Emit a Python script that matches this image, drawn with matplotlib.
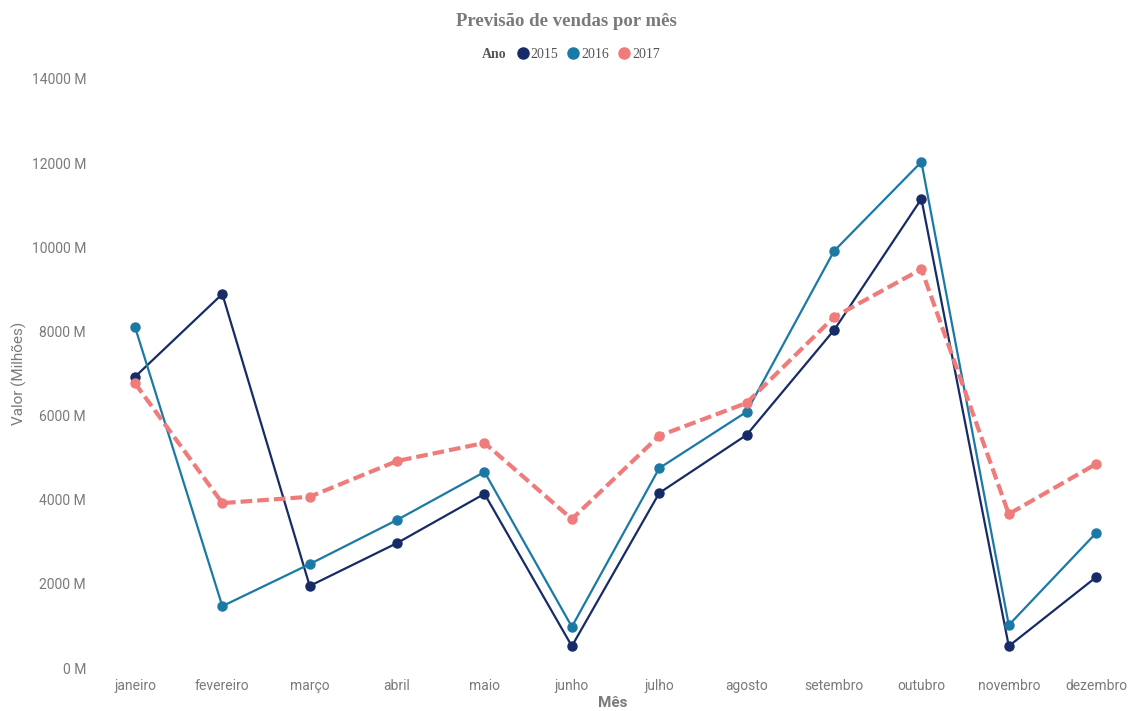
import matplotlib.pyplot as plt
from matplotlib.lines import Line2D
from matplotlib.ticker import FuncFormatter

meses = ['janeiro', 'fevereiro', 'março', 'abril', 'maio', 'junho',
         'julho', 'agosto', 'setembro', 'outubro', 'novembro', 'dezembro']

vendas_2015 = [6920, 8890, 1950, 2970, 4140, 520, 4160, 5540, 8030, 11150, 520, 2160]
vendas_2016 = [8110, 1470, 2470, 3520, 4660, 980, 4750, 6090, 9910, 12030, 1020, 3210]
vendas_2017 = [6770, 3920, 4070, 4920, 5350, 3540, 5520, 6300, 8340, 9480, 3660, 4850]

C15 = '#172B67'
C16 = '#1B79A5'
C17 = '#F07B7B'
GREY = '#7a7a7a'

fig = plt.figure(figsize=(11.33, 7.11), dpi=100)
ax = fig.add_axes([100 / 1133, 1 - 668 / 711, 1025 / 1133, (668 - 79) / 711])

x = list(range(len(meses)))
ax.plot(x, vendas_2015, color=C15, lw=1.6, marker='o', ms=6.5, zorder=3)
ax.plot(x, vendas_2016, color=C16, lw=1.6, marker='o', ms=6.5, zorder=3)
ax.plot(x, vendas_2017, color=C17, lw=3, ls=(0, (2.8, 1.2)), marker='o', ms=6.5, zorder=4)

ax.set_xlim(-0.4, 11.33)
ax.set_ylim(0, 14000)
ax.set_yticks(range(0, 14001, 2000))
ax.yaxis.set_major_formatter(FuncFormatter(lambda v, p: '%d M' % v))
ax.set_xticks(x)
ax.set_xticklabels(meses)
for s in ax.spines.values():
    s.set_visible(False)
ax.tick_params(length=0, colors=GREY, labelsize=10)
ax.tick_params(axis='x', pad=8)
ax.tick_params(axis='y', pad=10)
for lab in ax.get_xticklabels() + ax.get_yticklabels():
    lab.set_fontfamily('Roboto')

ax.set_xlabel('Mês', color=GREY, fontsize=11, fontweight='bold', family='Roboto', labelpad=2)
ax.set_ylabel('Valor (Milhões)', color=GREY, fontsize=11, family='Roboto')
ax.yaxis.set_label_coords(-0.071, 0.5)

fig.text(0.5, 1 - 21 / 711, 'Previsão de vendas por mês', ha='center', va='center',
         fontsize=13.5, fontweight='bold', color=GREY, family='Liberation Serif')

fig.text(494 / 1133, 1 - 54 / 711, 'Ano', ha='center', va='center',
         fontsize=10, fontweight='bold', color='#555555', family='Liberation Serif')
handles = [Line2D([], [], color=c, marker='o', ls='none', ms=8) for c in (C15, C16, C17)]
leg = fig.legend(handles, ['2015', '2016', '2017'], loc='center',
                 bbox_to_anchor=(586 / 1133, 1 - 54 / 711), ncol=3, frameon=False,
                 handletextpad=-0.15, columnspacing=0.3, handlelength=1.5,
                 prop={'family': 'Liberation Serif', 'size': 10})
for t in leg.get_texts():
    t.set_color('#555555')

fig.savefig('out.png', dpi=100)
